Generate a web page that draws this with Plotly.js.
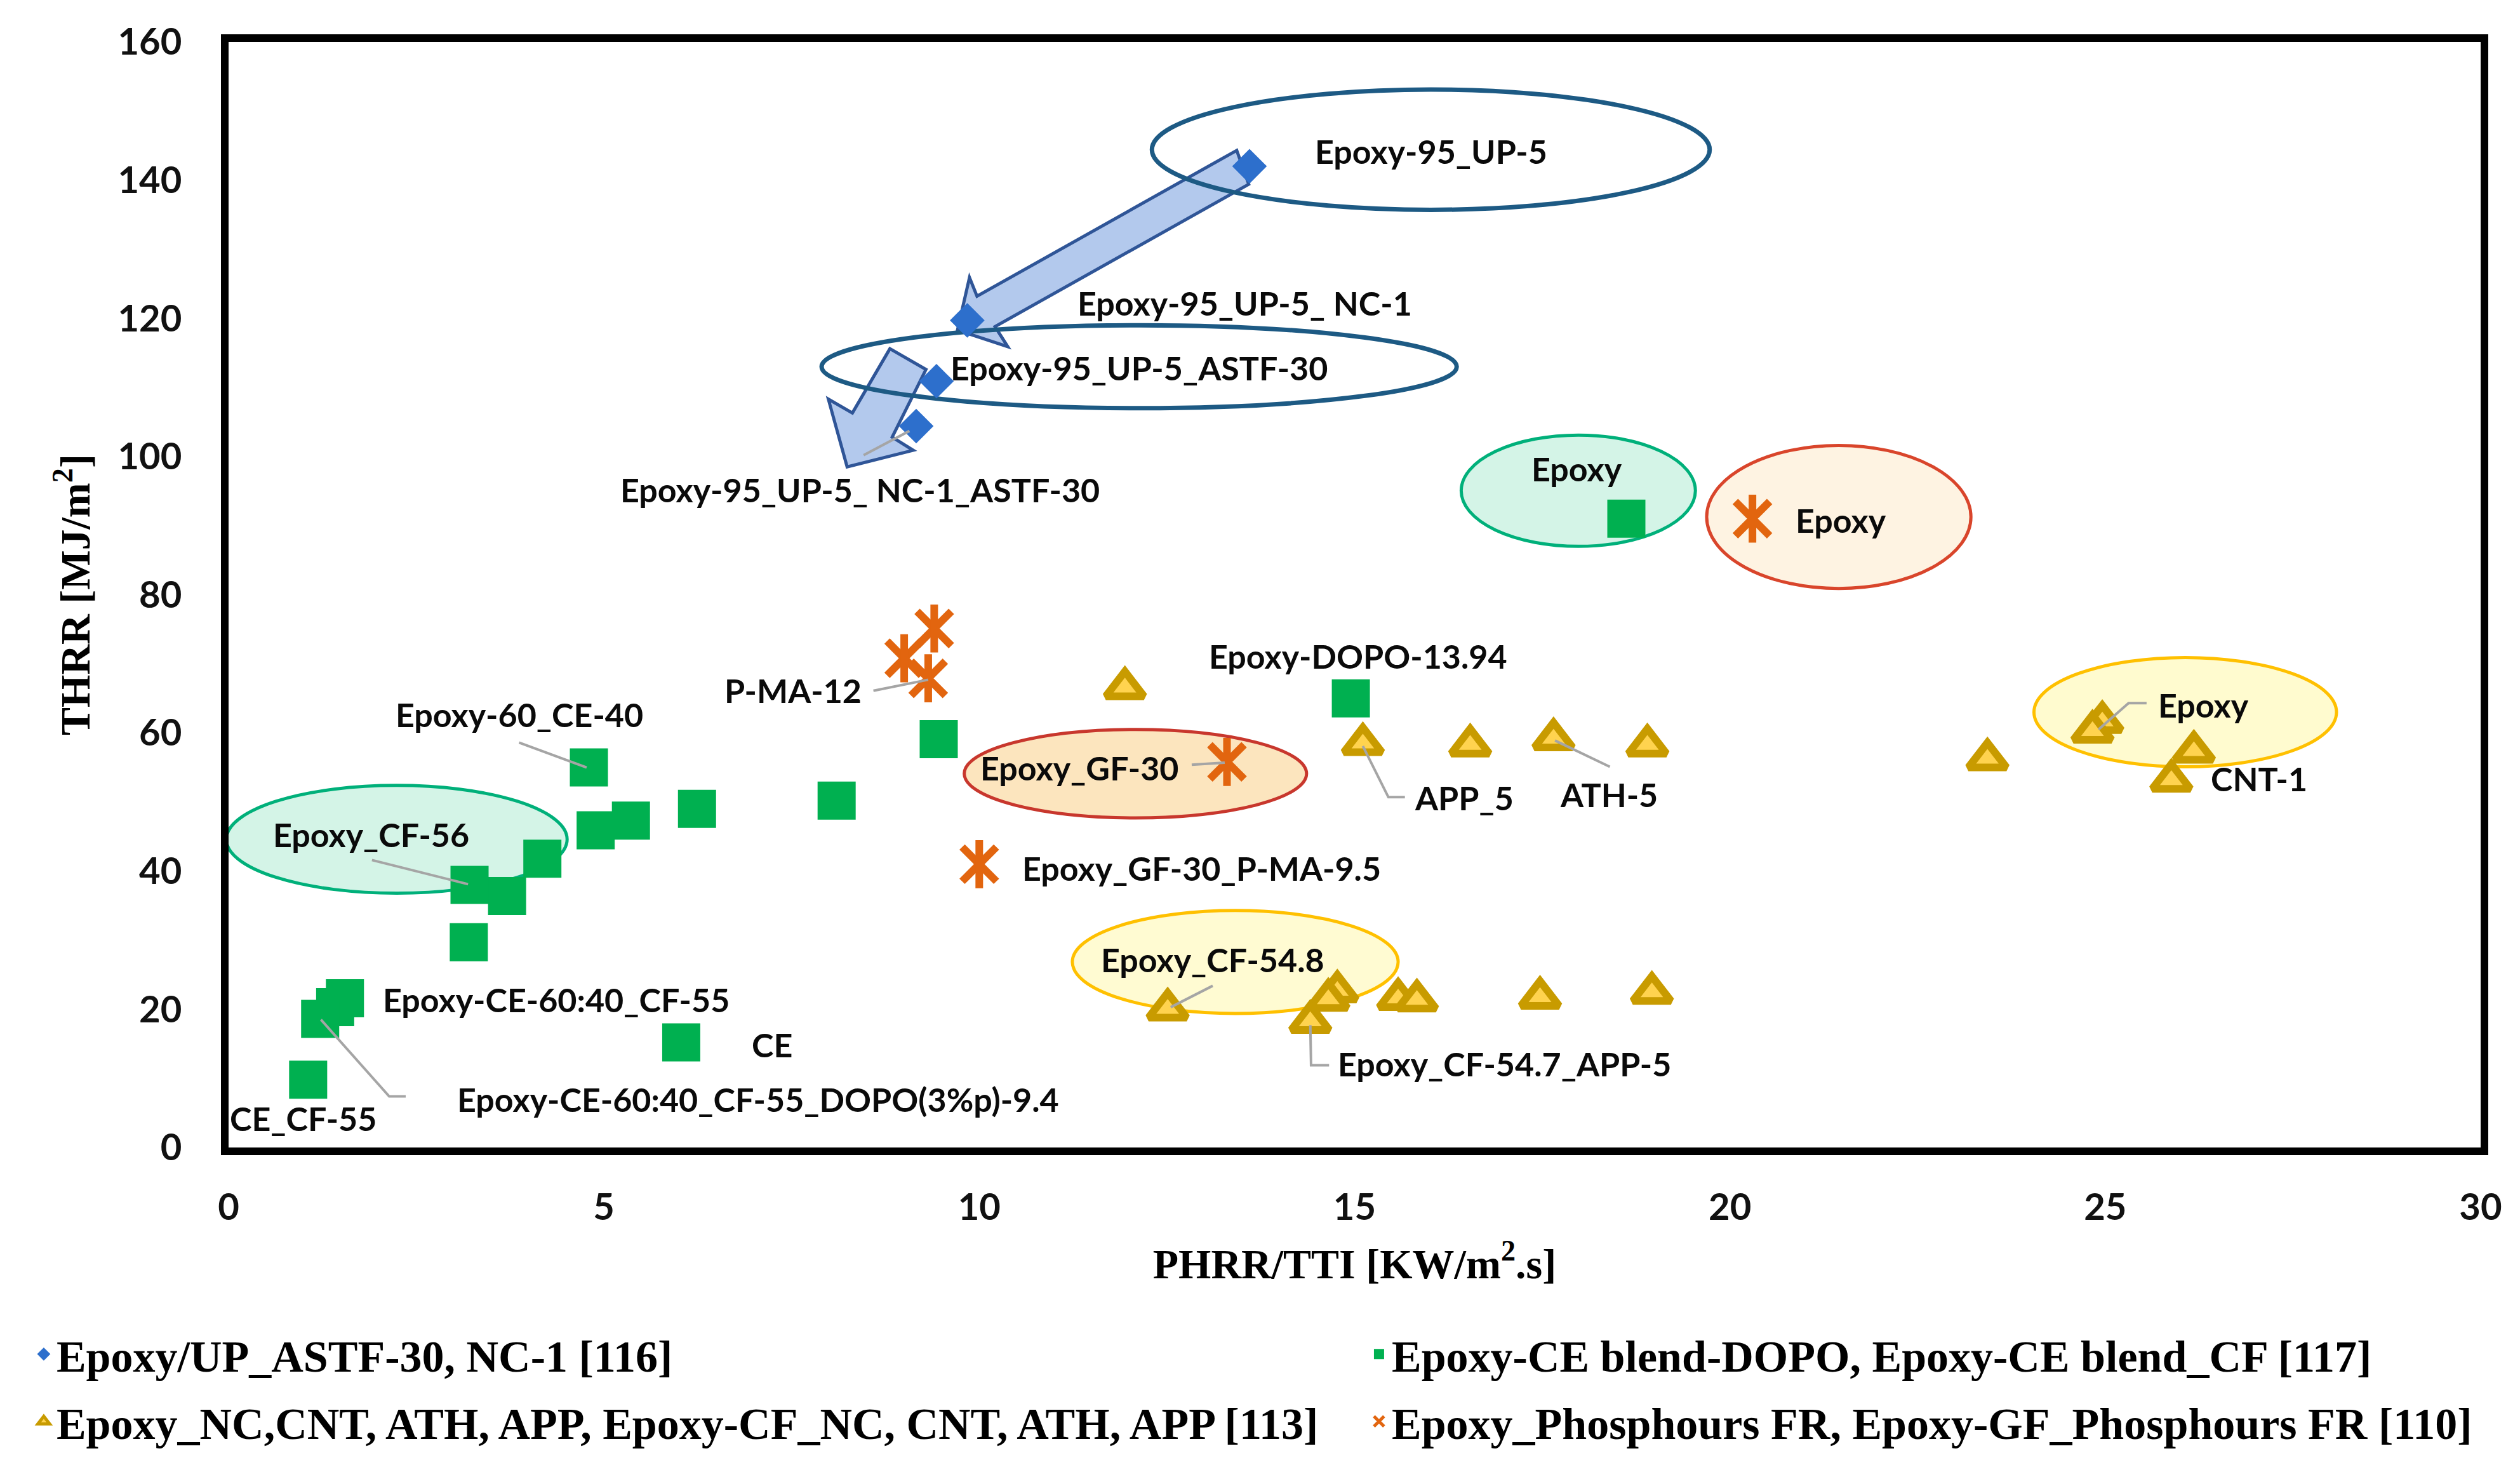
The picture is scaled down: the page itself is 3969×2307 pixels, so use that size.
<!DOCTYPE html>
<html><head><meta charset="utf-8">
<script src="https://cdn.plot.ly/plotly-3.0.1.min.js"></script>
<style>html,body{margin:0;padding:0;background:#fff}#chart{width:3969px;height:2307px}</style>
</head><body><div id="chart"></div>
<script>
// ---------- data ----------
const xTicks = [0, 5, 10, 15, 20, 25, 30];
const yTicks = [0, 20, 40, 60, 80, 100, 120, 140, 160];

const seriesNames = [
  'Epoxy/UP_ASTF-30, NC-1 [116]',
  'Epoxy-CE blend-DOPO, Epoxy-CE blend_CF [117]',
  'Epoxy_NC,CNT, ATH, APP, Epoxy-CF_NC, CNT, ATH, APP [113]',
  'Epoxy_Phosphours FR, Epoxy-GF_Phosphours FR [110]'
];

const upX = [13.60, 9.84, 9.43, 9.16];
const upY = [142.0, 119.7, 110.9, 104.4];

const ceX = [18.62, 14.95, 9.46, 8.10, 6.24, 5.36, 4.89, 4.80, 4.18, 3.71, 3.21, 3.20, 1.55, 1.42, 1.22, 1.06, 6.03];
const ceY = [91.0, 65.0, 59.1, 50.2, 49.0, 47.3, 45.9, 55.0, 41.8, 36.4, 38.0, 29.7, 21.6, 20.3, 18.6, 9.8, 15.2];

const ncX = [11.94, 15.11, 16.54, 17.65, 18.90, 23.43, 24.96, 24.83, 26.18, 25.88, 12.51, 14.77, 14.65, 14.41, 15.58, 15.83, 17.47, 18.96];
const ncY = [66.5, 58.4, 58.2, 59.1, 58.2, 56.2, 61.6, 60.2, 57.3, 53.1, 20.0, 22.6, 21.4, 18.2, 21.5, 21.3, 21.7, 22.4];

const frX = [20.30, 9.40, 9.00, 9.32, 13.30, 10.00];
const frY = [91.0, 75.1, 70.8, 67.9, 55.8, 41.0];

// ---------- annotation layout (labels, ellipses, arrows, leaders) ----------
const labelText = ['Epoxy-95_UP-5', 'Epoxy-95_UP-5_ NC-1', 'Epoxy-95_UP-5_ASTF-30', 'Epoxy-95_UP-5_ NC-1_ASTF-30',
  'Epoxy', 'Epoxy', 'Epoxy', 'CNT-1', 'Epoxy-DOPO-13.94', 'P-MA-12', 'Epoxy-60_CE-40', 'Epoxy_GF-30',
  'APP_5', 'ATH-5', 'Epoxy_CF-56', 'Epoxy_GF-30_P-MA-9.5', 'Epoxy_CF-54.8', 'Epoxy-CE-60:40_CF-55', 'CE',
  'Epoxy_CF-54.7_APP-5', 'Epoxy-CE-60:40_CF-55_DOPO(3%p)-9.4', 'CE_CF-55'];
const labelPos = [[16.02,144.2],[13.54,122.2],[12.13,112.9],[8.41,95.2],
  [17.96,98.2],[21.48,90.8],[26.31,64.1],[27.05,53.4],[15.05,71.1],[7.52,66.2],[3.87,62.7],[11.34,55.0],
  [16.46,50.6],[18.39,51.1],[1.90,45.3],[12.96,40.4],[13.11,27.2],[4.36,21.4],[7.24,14.9],
  [17.0,12.1],[7.05,7.0],[0.001,4.2]];

const ellipses = [
  {b:[12.30,19.73,135.7,153.1], fill:'rgba(0,0,0,0)', line:'#1D5A84', w:7},
  {b:[7.90,16.36,107.0,119.0], fill:'rgba(0,0,0,0)', line:'#1D5A84', w:7},
  {b:[16.42,19.54,87.0,103.1], fill:'#D4F4E7', line:'#00B07A', w:5},
  {b:[19.69,23.21,80.9,101.6], fill:'#FEF3E2', line:'#D9452B', w:5},
  {b:[24.05,28.08,55.1,70.9], fill:'#FFFBCF', line:'#FFC000', w:5},
  {b:[9.80,14.36,47.7,60.5], fill:'#FCE5BE', line:'#C8372D', w:5},
  {b:[11.24,15.58,19.4,34.3], fill:'#FFFBD2', line:'#FFC000', w:5},
  {b:[-0.03,4.51,36.8,52.4], fill:'#D4F4E7', line:'#00B07A', w:5}
];

const arrows = [
  [[13.43,144.3],[9.97,123.2],[9.87,125.9],[9.71,118.3],[10.38,115.9],[10.21,118.8],[13.59,139.4]],
  [[8.81,115.6],[8.31,106.3],[7.99,108.3],[8.24,98.5],[9.12,100.9],[8.84,102.8],[9.29,112.6]]
];

const leaders = [
  [[3.87,58.6],[4.77,55.0]],
  [[1.91,41.6],[3.19,38.1]],
  [[1.23,18.5],[2.14,7.4],[2.36,7.4]],
  [[8.59,66.1],[9.32,67.7]],
  [[12.83,55.4],[13.27,55.7]],
  [[15.11,58.1],[15.45,50.7],[15.67,50.7]],
  [[17.67,58.9],[18.40,55.1]],
  [[13.11,23.4],[12.55,20.3]],
  [[14.41,17.7],[14.42,11.9],[14.66,11.9]],
  [[25.55,64.3],[25.31,64.3],[24.91,60.5]],
  [[9.07,103.7],[8.46,100.2]]
];

// ---------- build ----------
const pathOf = (pts, close) => pts.map((p, i) => (i ? 'L' : 'M') + p[0] + ',' + p[1]).join(' ') + (close ? ' Z' : '');

const shapes = [];
arrows.forEach(a => shapes.push({type:'path', xref:'x', yref:'y', layer:'below', path:pathOf(a, true),
  fillcolor:'rgba(168,193,234,0.88)', line:{color:'#2F5597', width:5}}));
ellipses.forEach(e => shapes.push({type:'circle', xref:'x', yref:'y', layer:'below',
  x0:e.b[0], x1:e.b[1], y0:e.b[2], y1:e.b[3], fillcolor:e.fill, line:{color:e.line, width:e.w}}));
leaders.forEach(l => shapes.push({type:'path', xref:'x', yref:'y', layer:'above', path:pathOf(l, false),
  line:{color:'#A5A5A5', width:4}}));

const labFont = {family:'Lato, "Open Sans", sans-serif', size:52, weight:700, color:'#0a0a0a'};
const annotations = labelText.map((t, i) => ({
  text:t, x:labelPos[i][0], y:labelPos[i][1], xref:'x', yref:'y', showarrow:false,
  xanchor: i === labelText.length - 1 ? 'left' : 'center', yanchor:'middle', font:labFont
}));

const legFont = {family:'"Liberation Serif", "Times New Roman", serif', size:70, weight:700, color:'#000'};

const traces = [
  {x:upX, y:upY, name:seriesNames[0], type:'scatter', mode:'markers', legend:'legend', legendgroup:'a',
   marker:{symbol:'diamond', size:42, color:'#2D6FCC'}},
  {x:ceX, y:ceY, name:seriesNames[1], type:'scatter', mode:'markers', legend:'legend2', legendgroup:'b',
   marker:{symbol:'square', size:60, color:'#00B050'}},
  {x:ncX, y:ncY, name:seriesNames[2], type:'scatter', mode:'markers', legend:'legend', legendgroup:'c',
   marker:{symbol:'triangle-up', size:52, color:'#FFD34F', line:{color:'#C89B00', width:12}}},
  {x:frX, y:frY, name:seriesNames[3], type:'scatter', mode:'markers', legend:'legend2', legendgroup:'d',
   marker:{symbol:'x-thin-open', size:54, color:'#E2650F', line:{width:12}}},
  {x:frX, y:frY, name:seriesNames[3], type:'scatter', mode:'markers', showlegend:false, legendgroup:'d',
   marker:{symbol:'line-ns-open', size:54, color:'#E2650F', line:{width:12}}}
];

const axFont = {family:'"Liberation Serif", "Times New Roman", serif', size:66, weight:700, color:'#000'};
const tickFont = {family:'Lato, "Open Sans", sans-serif', size:58, weight:700, color:'#111'};

const layout = {
  width:3969, height:2307,
  margin:{l:360, r:62, t:66, b:500},
  paper_bgcolor:'#fff', plot_bgcolor:'#fff',
  showlegend:true,
  xaxis:{range:[0,30], tickvals:xTicks, ticktext:xTicks.map(String), showline:true, mirror:true,
    linewidth:12, linecolor:'#000', showgrid:false, zeroline:false, ticks:'', tickfont:tickFont,
    ticklabelstandoff:32, title:{text:'PHRR/TTI [KW/m<sup>2</sup>.s]', font:axFont, standoff:40}},
  yaxis:{range:[0,160], tickvals:yTicks, ticktext:yTicks.map(String), showline:true, mirror:true,
    linewidth:12, linecolor:'#000', showgrid:false, zeroline:false, ticks:'', tickfont:tickFont,
    ticklabelstandoff:50, title:{text:'THRR [MJ/m<sup>2</sup>]', font:axFont, standoff:27}},
  legend:{x:-0.0877, xanchor:'left', y:-0.157, yanchor:'top', orientation:'v', font:legFont,
    bgcolor:'rgba(0,0,0,0)', tracegroupgap:12, traceorder:'grouped'},
  legend2:{x:0.5052, xanchor:'left', y:-0.157, yanchor:'top', orientation:'v', font:legFont,
    bgcolor:'rgba(0,0,0,0)', tracegroupgap:12, traceorder:'grouped'},
  shapes:shapes,
  annotations:annotations
};

Plotly.newPlot('chart', traces, layout, {staticPlot:true, displayModeBar:false});
</script></body></html>
